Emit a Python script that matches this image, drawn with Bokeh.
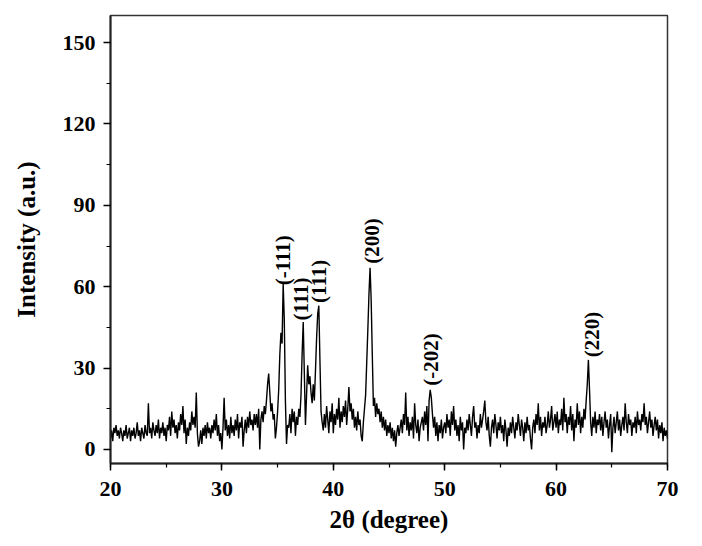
import numpy as np
from bokeh.plotting import figure
from bokeh.models import Range1d, SingleIntervalTicker, ColumnDataSource
from bokeh.core.properties import value
from bokeh.embed import file_html
from bokeh.resources import INLINE

# ---- data: XRD intensity, 2theta = 20.0 ... 70.0 step 0.1 ----
two_theta_start = 20.0
two_theta_step = 0.1
intensity_rows = [
    [4, 7, 3, 8, 6, 9, 5, 7, 4, 8],          # 20
    [6, 3, 7, 5, 9, 4, 6, 8, 3, 7],          # 21
    [5, 8, 4, 6, 10, 5, 7, 3, 8, 6],         # 22
    [4, 9, 6, 5, 17, 6, 8, 4, 10, 7],        # 23
    [5, 9, 6, 11, 4, 8, 6, 10, 5, 8],        # 24
    [3, 9, 7, 12, 5, 14, 8, 11, 6, 9],       # 25
    [4, 10, 7, 13, 9, 16, 6, 11, 2, 8],      # 26
    [5, 10, 7, 14, 9, 12, 8, 21, 6, 1],      # 27
    [3, 7, 2, 8, 5, 9, 4, 10, 6, 8],         # 28
    [4, 9, 6, 11, 7, 13, 5, 9, 3, 6],        # 29
    [0, 8, 19, 7, 11, 5, 9, 4, 12, 6],       # 30
    [9, 5, 11, 7, 13, 4, 10, 8, 12, 1],      # 31
    [7, 11, 6, 12, 8, 14, 9, 11, 7, 13],     # 32
    [9, 13, 8, 15, 0, 11, 14, 10, 16, 13],   # 33
    [18, 24, 28, 21, 14, 17, 11, 13, 4, 8],  # 34
    [14, 22, 35, 43, 39, 61, 48, 18, 2, 9],  # 35
    [8, 13, 6, 15, 10, 14, 5, 12, 9, 15],    # 36
    [12, 20, 35, 47, 28, 9, 20, 31, 24, 27], # 37
    [21, 17, 24, 18, 29, 41, 50, 53, 33, 14],# 38
    [10, 7, 13, 8, 16, 11, 6, 14, 10, 17],   # 39
    [6, 13, 9, 15, 11, 19, 8, 14, 10, 16],   # 40
    [12, 18, 9, 15, 23, 14, 17, 11, 15, 8],  # 41
    [12, 7, 14, 9, 11, 5, 3, 10, 15, 20],    # 42
    [32, 44, 57, 67, 55, 35, 16, 19, 12, 17],# 43
    [13, 15, 10, 14, 8, 12, 7, 11, 5, 9],    # 44
    [6, 10, 4, 8, 3, 7, 1, 6, 9, 5],         # 45
    [8, 11, 6, 13, 9, 21, 7, 12, 5, 10],     # 46
    [7, 12, 4, 17, 9, 6, 11, 3, 8, 10],      # 47
    [12, 7, 14, 9, 16, 3, 18, 22, 19, 13],   # 48
    [8, 12, 5, 10, 3, 9, 6, 11, 4, 8],       # 49
    [10, 6, 13, 8, 11, 5, 14, 9, 16, 7],     # 50
    [11, 5, 9, 3, 12, 7, 10, 0, 8, 6],       # 51
    [11, 7, 13, 9, 5, 12, 16, 8, 10, 4],     # 52
    [9, 6, 13, 8, 11, 14, 18, 10, 7, 12],    # 53
    [5, 1, 8, 11, 6, 13, 9, 4, 10, 7],       # 54
    [12, 6, 9, 3, 11, 7, 1, 8, 5, 10],       # 55
    [6, 12, 8, 4, 10, 7, 13, 9, 5, 11],      # 56
    [8, 3, 10, 6, 12, 7, 9, 4, 0, 8],        # 57
    [11, 6, 13, 9, 17, 7, 12, 5, 10, 8],     # 58
    [12, 6, 9, 14, 8, 11, 16, 7, 10, 13],    # 59
    [8, 14, 6, 11, 9, 15, 7, 19, 10, 13],    # 60
    [6, 12, 9, 16, 7, 13, 3, 11, 8, 17],     # 61
    [9, 14, 6, 12, 8, 15, 11, 18, 24, 33],   # 62
    [22, 10, 5, 12, 8, 14, 6, 11, 9, 13],    # 63
    [7, 12, 5, 10, 14, 8, 11, 4, 9, 13],     # 64
    [-1, 8, 12, 6, 10, 14, 7, 11, 5, 9],     # 65
    [12, 7, 17, 10, 6, 13, 9, 11, 5, 10],    # 66
    [8, 12, 6, 14, 9, 11, 7, 13, 10, 17],    # 67
    [9, 12, 6, 10, 14, 8, 11, 5, 9, 12],     # 68
    [7, 11, 4, 9, 6, 10, 3, 8, 5, 7],        # 69
    [4],                                     # 70
]

peak_labels = ["(-111)", "(111)", "(111)", "(200)", "(-202)", "(220)"]
peak_label_x = [35.5, 37.1, 38.7, 43.5, 48.8, 63.2]
peak_label_y = [60.5, 47.5, 54.0, 68.5, 23.5, 34.0]

x_label = "2\u03b8 (degree)"
y_label = "Intensity (a.u.)"

# ---- build ----
intensity = np.array([v for row in intensity_rows for v in row], dtype=float)
two_theta = two_theta_start + two_theta_step * np.arange(len(intensity))

SERIF = "Liberation Serif"

p = figure(width=686, height=544, output_backend="svg", toolbar_location=None,
           x_range=Range1d(20, 70), y_range=Range1d(-5.2, 160),
           min_border_left=110, min_border_right=19, min_border_top=15,
           min_border_bottom=81)
p.background_fill_color = "white"
p.border_fill_color = "white"
p.grid.visible = False
p.outline_line_color = "#333333"
p.outline_line_width = 1.5

p.line(two_theta, intensity, line_color="black", line_width=1.4)

src = ColumnDataSource(dict(x=peak_label_x, y=peak_label_y, t=peak_labels))
p.text(x="x", y="y", text="t", source=src, angle=np.pi / 2,
       text_align="left", text_baseline="middle",
       text_font=value(SERIF), text_font_size="21px", text_font_style="bold",
       text_color="black")

p.xaxis.ticker = SingleIntervalTicker(interval=10, num_minor_ticks=2)
p.yaxis.ticker = SingleIntervalTicker(interval=30, num_minor_ticks=2)
for ax in (p.xaxis[0], p.yaxis[0]):
    ax.axis_line_width = 2
    ax.axis_line_color = "#222222"
    ax.major_tick_out = 7
    ax.major_tick_in = 0
    ax.minor_tick_out = 4
    ax.minor_tick_in = 0
    ax.major_tick_line_width = 1.5
    ax.minor_tick_line_width = 1.2
    ax.major_label_text_font = SERIF
    ax.major_label_text_font_size = "22px"
    ax.major_label_text_font_style = "bold"
    ax.major_label_text_color = "black"
    ax.axis_label_text_font = SERIF
    ax.axis_label_text_font_size = "25px"
    ax.axis_label_text_font_style = "bold"
    ax.axis_label_text_color = "black"
p.xaxis.major_label_standoff = 11
p.yaxis.major_label_standoff = 8

p.yaxis.axis_label = y_label
p.yaxis.axis_label_standoff = 20
p.xaxis.axis_label = x_label
p.xaxis.axis_label_standoff = 7

open("out.html", "w").write(file_html(p, INLINE))
